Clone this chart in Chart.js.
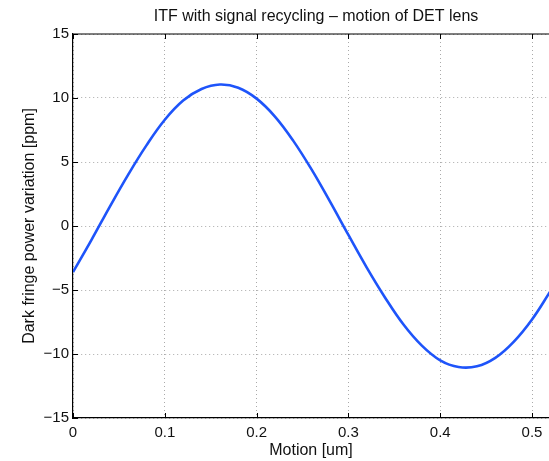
<!DOCTYPE html>
<html>
<head>
<meta charset="utf-8">
<script src="https://cdn.jsdelivr.net/npm/chart.js@4/dist/chart.umd.min.js"></script>
<style>
  html, body { margin: 0; padding: 0; background: #ffffff; }
  #wrap { width: 549px; height: 461px; position: relative; }
</style>
</head>
<body>
<div id="wrap"><canvas id="c" width="549" height="461"></canvas></div>
<script>
// ---- Data ----
const chartTitle = "ITF with signal recycling \u2013 motion of DET lens";
const xAxisTitle = "Motion [um]";
const yAxisTitle = "Dark fringe power variation [ppm]";

const motion = [0.00, 0.02, 0.04, 0.06, 0.08, 0.10, 0.12, 0.14, 0.16, 0.18, 0.20, 0.22, 0.24,
                0.26, 0.28, 0.30, 0.32, 0.34, 0.36, 0.38, 0.40, 0.42, 0.44, 0.46, 0.48, 0.50, 0.52];
const powerVariation = [-3.6, -1.1, 1.5, 4.0, 6.3, 8.3, 9.8, 10.7, 11.05, 10.8, 9.95, 8.55, 6.65,
                        4.4, 1.9, -0.7, -3.25, -5.6, -7.7, -9.35, -10.5, -11.02, -10.96, -10.3, -9.05, -7.3, -5.1];

const xTickValues = [0, 0.1, 0.2, 0.3, 0.4, 0.5];
const xTickLabels = ["0", "0.1", "0.2", "0.3", "0.4", "0.5"];
const yTickValues = [-15, -10, -5, 0, 5, 10, 15];
const yTickLabels = ["\u221215", "\u221210", "\u22125", "0", "5", "10", "15"];

const X_MIN = 0, X_MAX = 0.5185, Y_MIN = -15, Y_MAX = 15;

const FONT = "'Liberation Sans', Arial, Helvetica, sans-serif";

const matlabPlugin = {
  id: 'matlabDecor',
  afterDraw(chart) {
    const ctx = chart.ctx;
    const a = chart.chartArea;
    const xs = chart.scales.x, ys = chart.scales.y;
    ctx.save();
    // top frame line
    ctx.strokeStyle = '#000';
    ctx.lineWidth = 1.2;
    ctx.beginPath();
    ctx.moveTo(a.left, a.top);
    ctx.lineTo(a.right, a.top);
    ctx.stroke();
    // inward ticks
    const tl = 5;
    ctx.lineWidth = 1;
    ctx.beginPath();
    xTickValues.forEach(v => {
      const px = Math.round(xs.getPixelForValue(v)) + 0.5;
      ctx.moveTo(px, a.bottom); ctx.lineTo(px, a.bottom - tl);
      ctx.moveTo(px, a.top); ctx.lineTo(px, a.top + tl);
    });
    yTickValues.forEach(v => {
      const py = Math.round(ys.getPixelForValue(v)) + 0.5;
      ctx.moveTo(a.left, py); ctx.lineTo(a.left + tl, py);
    });
    ctx.stroke();
    // title
    ctx.fillStyle = '#111';
    ctx.font = "16px " + FONT;
    ctx.textAlign = 'center';
    ctx.textBaseline = 'middle';
    ctx.fillText(chartTitle, 316, 17);
    ctx.restore();
  }
};

new Chart(document.getElementById('c'), {
  type: 'line',
  data: {
    datasets: [{
      data: motion.map((m, i) => ({ x: m, y: powerVariation[i] })),
      borderColor: 'rgb(30, 84, 250)',
      borderWidth: 2.6,
      pointRadius: 0,
      fill: false,
      tension: 0.4
    }]
  },
  options: {
    responsive: false,
    animation: false,
    devicePixelRatio: 1,
    layout: { padding: { top: 34, right: 0, left: 0, bottom: 0 } },
    plugins: {
      legend: { display: false },
      title: { display: false },
      tooltip: { enabled: false }
    },
    scales: {
      x: {
        type: 'linear',
        min: X_MIN, max: X_MAX,
        afterFit(s) { s.height = 43; },
        afterBuildTicks(s) { s.ticks = xTickValues.map(v => ({ value: v })); },
        ticks: {
          callback: (v) => { const i = xTickValues.indexOf(v); return i >= 0 ? xTickLabels[i] : ''; },
          color: '#111', font: { family: FONT, size: 15 }, padding: 6, maxRotation: 0, autoSkip: false
        },
        grid: { color: '#aaaaaa', lineWidth: 1, drawTicks: false },
        border: { display: true, color: '#000', width: 1.2, dash: [1, 3] },
        title: { display: true, text: xAxisTitle, color: '#111', font: { family: FONT, size: 16 }, padding: { top: 0, bottom: 1 } }
      },
      y: {
        type: 'linear',
        min: Y_MIN, max: Y_MAX,
        afterFit(s) { s.width = 73; },
        afterBuildTicks(s) { s.ticks = yTickValues.map(v => ({ value: v })); },
        ticks: {
          callback: (v) => { const i = yTickValues.indexOf(v); return i >= 0 ? yTickLabels[i] : ''; },
          color: '#111', font: { family: FONT, size: 15 }, padding: 4
        },
        grid: { color: '#aaaaaa', lineWidth: 1, drawTicks: false },
        border: { display: true, color: '#000', width: 1.2, dash: [1, 3] },
        title: { display: true, text: yAxisTitle, color: '#111', font: { family: FONT, size: 16 }, padding: { top: 20, bottom: 0 } }
      }
    }
  },
  plugins: [matlabPlugin]
});
</script>
</body>
</html>
